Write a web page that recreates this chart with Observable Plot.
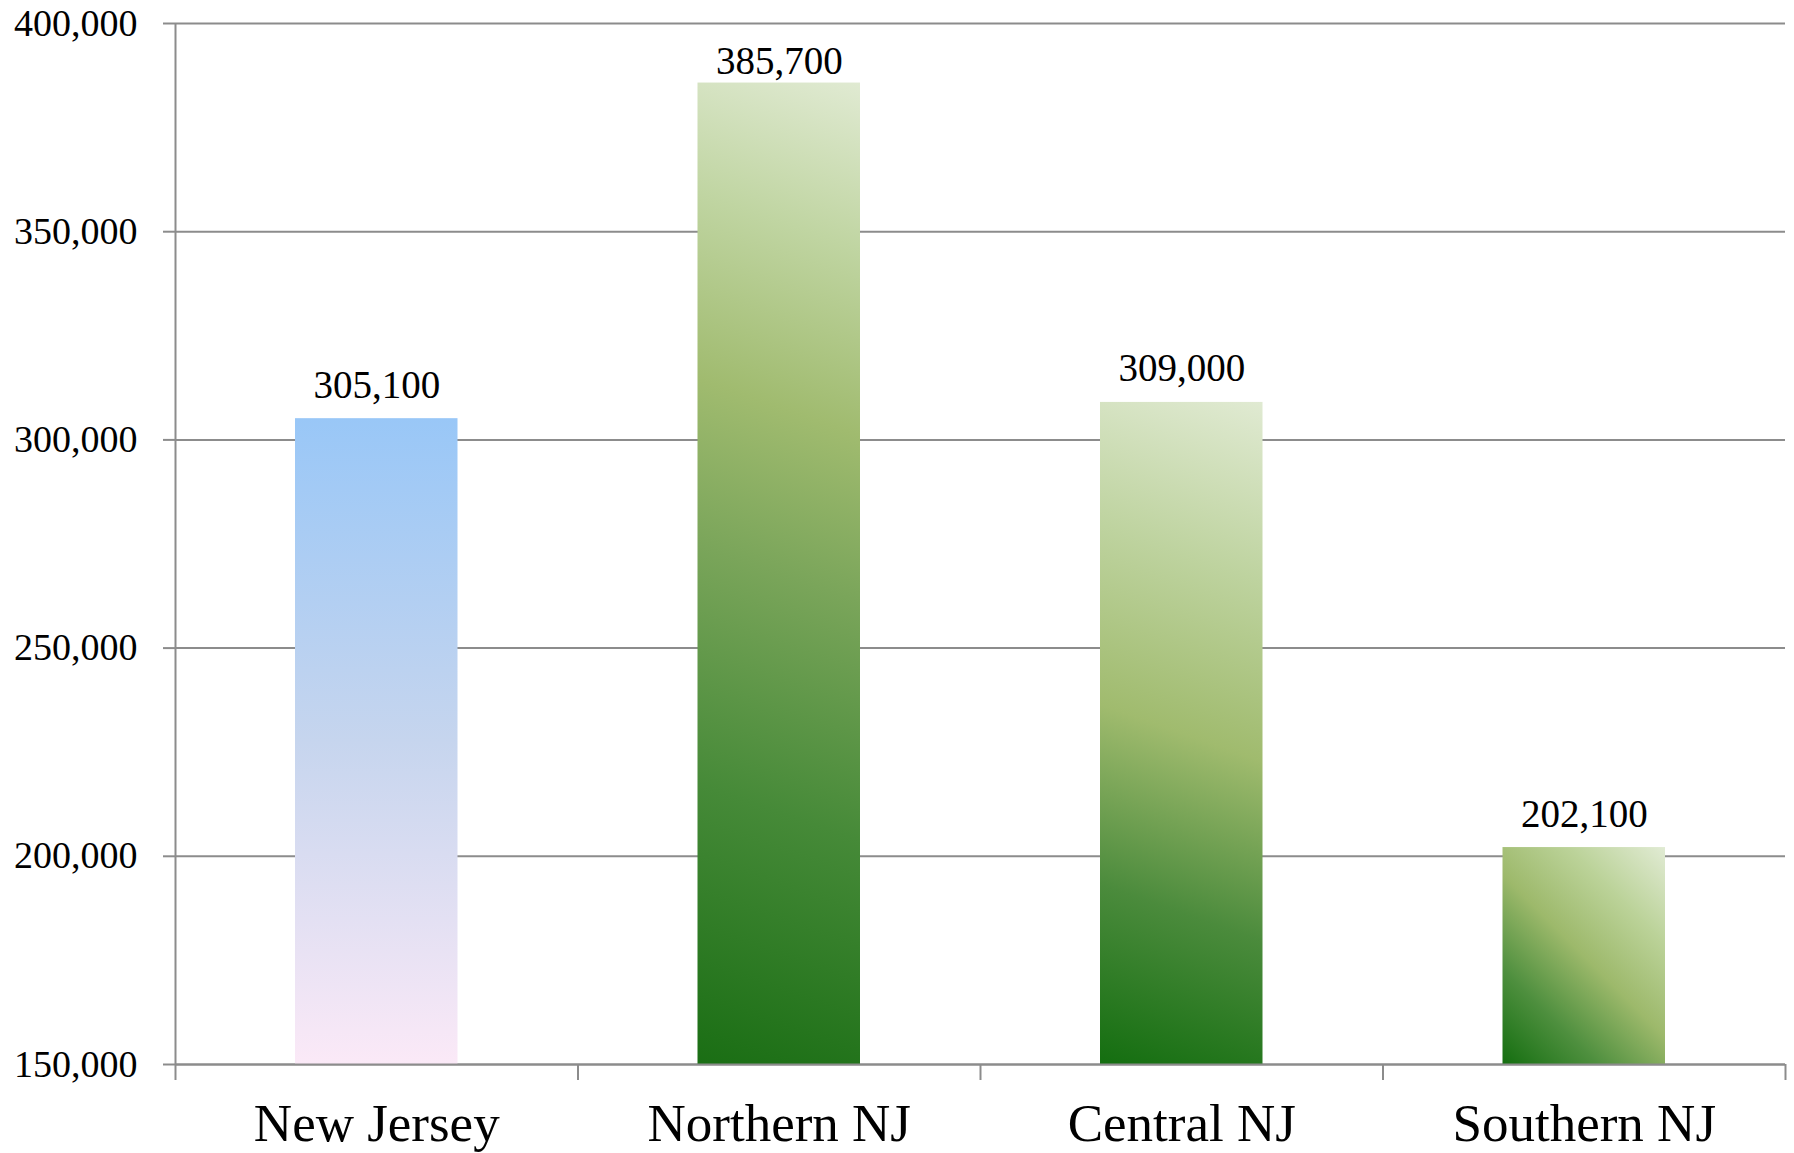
<!DOCTYPE html>
<html>
<head>
<meta charset="utf-8">
<script src="https://cdn.jsdelivr.net/npm/d3@7"></script>
<script src="https://cdn.jsdelivr.net/npm/@observablehq/plot@0.6"></script>
<style>
  html, body { margin: 0; padding: 0; background: #ffffff; }
  #chart { width: 1794px; height: 1153px; overflow: hidden; }
</style>
</head>
<body>
<div id="chart"></div>
<script>
const categories = ["New Jersey", "Northern NJ", "Central NJ", "Southern NJ"];
const values = [305100, 385700, 309000, 202100];
const valueLabels = ["305,100", "385,700", "309,000", "202,100"];
const yTicks = [150000, 200000, 250000, 300000, 350000, 400000];
const boundaryTicks = [0, 1, 2, 3, 4];
const labelTicks = [0.5, 1.5, 2.5, 3.5];

const data = categories.map((c, i) => ({i, category: c, value: values[i], label: valueLabels[i]}));

const gray = "#8c8c8c";
const barInset = 120;
const yMax = 400000;
// labels that would run past the top of the plot are pulled down (as in the original)
const nearTop = d => d.value > yMax - 20000;

const plot = Plot.plot({
  width: 1794,
  height: 1153,
  marginTop: 23,
  marginBottom: 89,
  marginLeft: 175,
  marginRight: 9,
  style: {fontFamily: "'Liberation Serif', 'Times New Roman', serif", background: "#ffffff", color: "#000000"},
  x: {type: "linear", domain: [0, 4], axis: null},
  y: {domain: [150000, yMax], axis: null},
  marks: [
    Plot.gridY(yTicks, {stroke: gray, strokeOpacity: 1, strokeWidth: 2}),
    ...data.map(d => Plot.rectY([d], {
      x1: "i", x2: r => r.i + 1, y1: 150000, y2: "value",
      insetLeft: barInset, insetRight: barInset,
      fill: `url(#bar${d.i})`
    })),
    Plot.ruleX([0], {stroke: gray, strokeWidth: 2}),
    Plot.ruleY([150000], {stroke: gray, strokeWidth: 2}),
    Plot.axisY(yTicks, {label: null, tickSize: 12, tickPadding: 26, tickFormat: d3.format(","), fontSize: 38, stroke: gray, strokeWidth: 2, strokeOpacity: 1}),
    Plot.axisX(boundaryTicks, {label: null, tickSize: 16, tickFormat: () => "", stroke: gray, strokeWidth: 2, strokeOpacity: 1}),
    Plot.axisX(labelTicks, {label: null, tickSize: 0, tickPadding: 39, tickFormat: t => categories[Math.floor(t)], fontSize: 53}),
    Plot.text(data.filter(d => !nearTop(d)), {x: d => d.i + 0.5, y: "value", text: "label", dy: -21, lineAnchor: "bottom", fontSize: 39, fill: "#000000"}),
    Plot.text(data.filter(nearTop), {x: d => d.i + 0.5, y: "value", text: "label", dy: -9, lineAnchor: "bottom", fontSize: 39, fill: "#000000"})
  ]
});

// gradient definitions sized from the plot's own scales
const xs = plot.scale("x"), ys = plot.scale("y");
const svg = d3.select(plot);
const defs = svg.insert("defs", ":first-child");

const blue = defs.append("linearGradient").attr("id", "bar0")
  .attr("x1", 0).attr("y1", 0).attr("x2", 0).attr("y2", 1);
blue.append("stop").attr("offset", 0).attr("stop-color", "#99c7f7");
blue.append("stop").attr("offset", 0.5).attr("stop-color", "#c6d5ee");
blue.append("stop").attr("offset", 1).attr("stop-color", "#fbe9f7");

// per-bar gradient stops and tilt (horizontal weight relative to vertical)
const greenStyle = {
  1: {tilt: 0.35, stops: [[0, "#1a6e14"], [0.27, "#468a38"], [0.5, "#7aa55a"], [0.66, "#a0bb6f"], [0.84, "#c0d5a2"], [1, "#e0ead2"]]},
  2: {tilt: 0.35, stops: [[0, "#146e10"], [0.25, "#4b8b3c"], [0.5, "#a0bb6e"], [0.75, "#bed39f"], [1, "#e0ead2"]]},
  3: {tilt: 1.0, stops: [[0, "#146e10"], [0.25, "#4e8f3e"], [0.5, "#9db96b"], [0.75, "#bcd39a"], [1, "#e1ebd4"]]}
};

data.slice(1).forEach(d => {
  const {tilt, stops} = greenStyle[d.i];
  const x0 = xs.apply(d.i) + barInset;
  const x1 = xs.apply(d.i + 1) - barInset;
  const yb = ys.apply(150000);
  const yt = ys.apply(d.value);
  const w = x1 - x0, h = yb - yt;
  const s = (tilt * w + h) / (tilt * tilt + 1);
  const g = defs.append("linearGradient").attr("id", `bar${d.i}`)
    .attr("gradientUnits", "userSpaceOnUse")
    .attr("x1", x0).attr("y1", yb).attr("x2", x0 + s * tilt).attr("y2", yb - s);
  stops.forEach(([o, c]) => g.append("stop").attr("offset", o).attr("stop-color", c));
});

document.getElementById("chart").appendChild(plot);
</script>
</body>
</html>
